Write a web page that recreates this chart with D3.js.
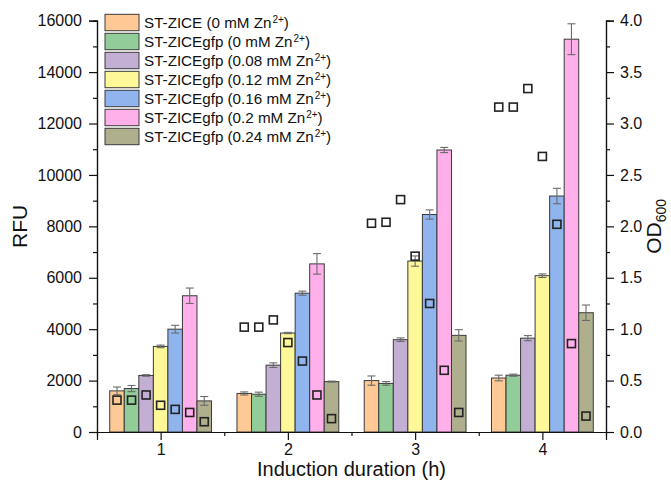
<!DOCTYPE html>
<html>
<head>
<meta charset="utf-8">
<script src="https://cdn.jsdelivr.net/npm/d3@7"></script>
<style>
  body { margin: 0; background: #fff; }
  svg { display: block; }
</style>
</head>
<body>
<div id="chart"></div>
<script>
// induction time (h)
const categories = [1, 2, 3, 4]

const seriesNames = ["ST-ZICE (0 mM Zn", "ST-ZICEgfp (0 mM Zn", "ST-ZICEgfp (0.08 mM Zn",
  "ST-ZICEgfp (0.12 mM Zn", "ST-ZICEgfp (0.16 mM Zn", "ST-ZICEgfp (0.2 mM Zn", "ST-ZICEgfp (0.24 mM Zn"]
const seriesColors = ["#FFC995", "#92CC98", "#C3AED4", "#FFF899", "#8FB4EE", "#FFB0EA", "#AFAF8E"]

// RFU per series, one value per induction time
const rfu0 = [1600, 1500, 2000, 2100]
const rfu1 = [1690, 1470, 1890, 2210]
const rfu2 = [2200, 2600, 3590, 3650]
const rfu3 = [3330, 3850, 6650, 6080]
const rfu4 = [4000, 5400, 8460, 9180]
const rfu5 = [5300, 6540, 10970, 15280]
const rfu6 = [1210, 1960, 3760, 4640]

const err0 = [150, 60, 180, 110]
const err1 = [120, 80, 70, 40]
const err2 = [30, 90, 70, 100]
const err3 = [50, 25, 200, 70]
const err4 = [150, 80, 180, 300]
const err5 = [300, 400, 100, 600]
const err6 = [170, 20, 220, 300]

// OD600 per series
const od0 = [0.31, 1.02, 2.03, 3.16]
const od1 = [0.31, 1.02, 2.04, 3.16]
const od2 = [0.36, 1.09, 2.26, 3.34]
const od3 = [0.26, 0.87, 1.71, 2.68]
const od4 = [0.22, 0.69, 1.25, 2.02]
const od5 = [0.19, 0.36, 0.60, 0.86]
const od6 = [0.10, 0.13, 0.19, 0.155]

const rfuTicks = [0, 2000, 4000, 6000, 8000, 10000, 12000, 14000, 16000]
const odTicks = [0, 0.5, 1, 1.5, 2, 2.5, 3, 3.5, 4]

const rfuAll = [rfu0, rfu1, rfu2, rfu3, rfu4, rfu5, rfu6]
const errAll = [err0, err1, err2, err3, err4, err5, err6]
const odAll = [od0, od1, od2, od3, od4, od5, od6]

let width = 671
let height = 485
let mLeft = 97, mRight = 606, mTop = 20.7, mBottom = 432

let font = "Liberation Sans, Arial, sans-serif"

let x = d3.scaleLinear().domain([0.5, 4.5]).range([mLeft, mRight])
let y = d3.scaleLinear().domain([0, 16000]).range([mBottom, mTop])
let y2 = d3.scaleLinear().domain([0, 4]).range([mBottom, mTop])

let groupWidth = 0.8
let barW = groupWidth / seriesNames.length
let barX = (cat, s) => cat - groupWidth / 2 + s * barW

let svg = d3.select("#chart").append("svg")
  .attr("width", width)
  .attr("height", height)
  .attr("viewBox", [0, 0, width, height])

let rows = []
rfuAll.forEach((vals, s) => {
  vals.forEach((v, i) => rows.push({s, cat: categories[i], v, e: errAll[s][i], od: odAll[s][i]}))
})

// bars
svg.append("g").selectAll("rect")
  .data(rows)
  .join("rect")
  .attr("x", d => x(barX(d.cat, d.s)))
  .attr("y", d => y(d.v))
  .attr("width", d => x(barX(d.cat, d.s) + barW) - x(barX(d.cat, d.s)))
  .attr("height", d => y(0) - y(d.v))
  .attr("fill", d => seriesColors[d.s])
  .attr("stroke", "#3a3a3a")
  .attr("stroke-width", 1)

// error bars
let eb = svg.append("g").attr("stroke", "#6b6b6b").attr("stroke-width", 1.1)
rows.forEach(d => {
  let cx = x(barX(d.cat, d.s) + barW / 2)
  let capW = 4
  eb.append("line").attr("x1", cx).attr("x2", cx).attr("y1", y(d.v - d.e)).attr("y2", y(d.v + d.e))
  eb.append("line").attr("x1", cx - capW).attr("x2", cx + capW).attr("y1", y(d.v + d.e)).attr("y2", y(d.v + d.e))
  eb.append("line").attr("x1", cx - capW).attr("x2", cx + capW).attr("y1", y(d.v - d.e)).attr("y2", y(d.v - d.e))
})

// OD600 squares
let sq = 8
svg.append("g").selectAll("rect")
  .data(rows)
  .join("rect")
  .attr("x", d => x(barX(d.cat, d.s) + barW / 2) - sq / 2)
  .attr("y", d => y2(d.od) - sq / 2)
  .attr("width", sq).attr("height", sq)
  .attr("fill", "none")
  .attr("stroke", "#222")
  .attr("stroke-width", 1.6)

// axes
let styleAxis = g => {
  g.select(".domain").attr("stroke", "#111").attr("stroke-width", 1.2)
  g.selectAll(".tick line").attr("stroke", "#111").attr("stroke-width", 1.2)
  g.selectAll(".tick text").attr("font-family", font).attr("font-size", 16).attr("fill", "#111")
}

svg.append("g")
  .attr("transform", `translate(${mLeft},0)`)
  .call(d3.axisLeft(y).tickValues(rfuTicks).tickSize(8).tickPadding(7).tickFormat(d3.format("d")))
  .call(styleAxis)
svg.append("g")
  .attr("transform", `translate(${mLeft},0)`)
  .call(d3.axisLeft(y).tickValues(d3.range(1000, 16000, 2000)).tickSize(4).tickFormat(""))
  .call(styleAxis)

svg.append("g")
  .attr("transform", `translate(${mRight},0)`)
  .call(d3.axisRight(y2).tickValues(odTicks).tickSize(8).tickPadding(6).tickFormat(d3.format(".1f")))
  .call(styleAxis)
svg.append("g")
  .attr("transform", `translate(${mRight},0)`)
  .call(d3.axisRight(y2).tickValues(d3.range(0.25, 4, 0.5)).tickSize(4).tickFormat(""))
  .call(styleAxis)

svg.append("g")
  .attr("transform", `translate(0,${mBottom})`)
  .call(d3.axisBottom(x).tickValues(categories).tickSize(8).tickPadding(4).tickFormat(d3.format("d")))
  .call(styleAxis)
svg.append("g")
  .attr("transform", `translate(0,${mBottom})`)
  .call(d3.axisBottom(x).tickValues([1.5, 2.5, 3.5]).tickSize(4).tickFormat(""))
  .call(styleAxis)

// axis titles
svg.append("text")
  .attr("transform", `translate(27,${(mTop + mBottom) / 2}) rotate(-90)`)
  .attr("text-anchor", "middle")
  .attr("font-family", font).attr("font-size", 21).attr("fill", "#111")
  .text("RFU")

let odTitle = svg.append("text")
  .attr("transform", `translate(661,${(mTop + mBottom) / 2}) rotate(-90)`)
  .attr("text-anchor", "middle")
  .attr("font-family", font).attr("font-size", 21).attr("fill", "#111")
odTitle.append("tspan").text("OD")
odTitle.append("tspan").attr("font-size", 14).attr("dy", 5).text("600")

svg.append("text")
  .attr("x", (mLeft + mRight) / 2)
  .attr("y", 476)
  .attr("text-anchor", "middle")
  .attr("font-family", font).attr("font-size", 20).attr("fill", "#111")
  .text("Induction duration (h)")

// legend
let lg = svg.append("g")
seriesNames.forEach((name, i) => {
  let ly = 14.3 + i * 19
  lg.append("rect")
    .attr("x", 105).attr("y", ly)
    .attr("width", 34).attr("height", 16.4)
    .attr("fill", seriesColors[i])
    .attr("stroke", "#3a3a3a").attr("stroke-width", 1)
  let t = lg.append("text")
    .attr("x", 144).attr("y", ly + 13.5)
    .attr("font-family", font).attr("font-size", 15.2).attr("fill", "#111")
  t.append("tspan").text(name)
  t.append("tspan").attr("font-size", 10).attr("dy", -5).attr("dx", 1).text("2+")
  t.append("tspan").attr("dy", 5).text(")")
})
</script>
</body>
</html>
